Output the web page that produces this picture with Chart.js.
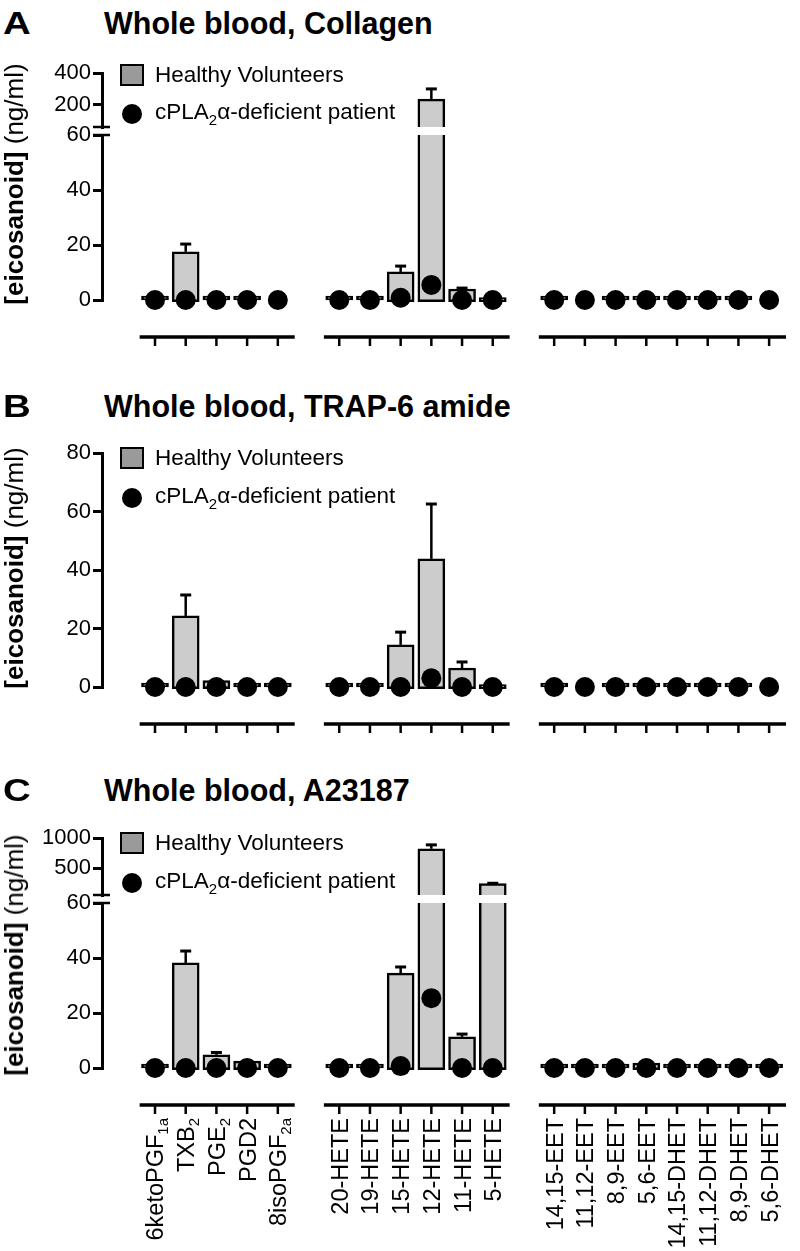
<!DOCTYPE html>
<html>
<head>
<meta charset="utf-8">
<script src="https://cdn.jsdelivr.net/npm/chart.js@4.4.1/dist/chart.umd.min.js"></script>
<style>
html,body{margin:0;padding:0;background:#fff;}
body{width:800px;height:1251px;position:relative;overflow:hidden;font-family:"Liberation Sans",Arial,Helvetica,sans-serif;color:#000;}
canvas{position:absolute;left:0;}
.t{position:absolute;white-space:nowrap;line-height:1;}
.letter{font-weight:bold;font-size:32px;transform:scaleX(1.2);transform-origin:left center;}
.title{font-weight:bold;font-size:30.5px;}
.leg{font-size:22.5px;}
.leg sub{font-size:15px;vertical-align:-6px;line-height:0;}
.ytitle{font-size:26px;transform:translate(-50%,-50%) rotate(-90deg);}
.sq{position:absolute;box-sizing:border-box;width:24px;height:22px;border:2.5px solid #000;background:#9a9a9a;}
.dot{position:absolute;width:20px;height:20px;border-radius:50%;background:#000;}
</style>
</head>
<body>
<script>
// ---------------- DATA ----------------
const prostanoids = ['6ketoPGF_{1a}', 'TXB_{2}', 'PGE_{2}', 'PGD2', '8isoPGF_{2a}'];
const hetes = ['20-HETE', '19-HETE', '15-HETE', '12-HETE', '11-HETE', '5-HETE'];
const eets = ['14,15-EET', '11,12-EET', '8,9-EET', '5,6-EET', '14,15-DHET', '11,12-DHET', '8,9-DHET', '5,6-DHET'];

// Whole blood, Collagen (ng/ml)
const collagenHealthy = [0.4, 17.5, 0.5, 0.5, null, 0.4, 0.4, 10.2, 236, 4.0, 0.9, 0.3, null, 0.3, 0.4, 0.3, 0.3, 0.3, null];
const collagenSEM     = [null, 3.2, null, null, null, null, null, 2.5, 70, 0.7, null, null, null, null, null, null, null, null, null];
const collagenPatient = [0, 0, 0, 0, 0, 0, 0, 0.8, 5.5, 0, 0, 0, 0, 0, 0, 0, 0, 0, 0];

// Whole blood, TRAP-6 amide (ng/ml)
const trapHealthy = [0.3, 24.3, 2.2, 0.5, 0.3, 0.3, 0.3, 14.4, 43.8, 6.5, 0.8, 0.3, null, 0.3, 0.3, 0.3, 0.3, 0.3, null];
const trapSEM     = [null, 7.5, null, null, null, null, null, 4.7, 19.1, 2.4, null, null, null, null, null, null, null, null, null];
const trapPatient = [0, 0, 0, 0, 0, 0, 0, 0, 3.0, 0, 0, 0, 0, 0, 0, 0, 0, 0, 0];

// Whole blood, A23187 (ng/ml)
const a23187Healthy = [0.3, 38.2, 4.8, 2.5, 0.3, 0.3, 0.3, 34.5, 822, 11.3, 250, 0.3, 0.3, 0.3, 1.8, 0.3, 0.3, 0.3, 0.3];
const a23187SEM     = [null, 4.7, 1.2, 0.3, null, null, null, 2.6, 81, 1.4, 20, null, null, null, 0.4, null, null, null, null];
const a23187Patient = [0, 0, 0, 0, 0, 0, 0, 0.7, 25.4, 0, 0, 0, 0, 0, 0, 0, 0, 0, 0];

// y tick labels
const collagenTicksLower = [0, 20, 40, 60];
const collagenTicksUpper = [200, 400];
const trapTicks = [0, 20, 40, 60, 80];
const a23187TicksLower = [0, 20, 40, 60];
const a23187TicksUpper = [500, 1000];

// ---------------- SETUP ----------------
const FONT = '"Liberation Sans", Arial, Helvetica, sans-serif';
Chart.defaults.font.family = FONT;
Chart.defaults.color = '#000';

const groups = [prostanoids, hetes, eets];
const slotOf = [];
const groupRanges = [];
(function () {
  let s = 0;
  groups.forEach(g => {
    const first = s;
    g.forEach(() => { slotOf.push(s); s++; });
    groupRanges.push([first, s - 1]);
    s++; // empty slot between groups
  });
})();
const categories = groups.flat();

const X_MIN = -1.726, X_MAX = 20.68;

function addCanvas(top, height) {
  const c = document.createElement('canvas');
  c.width = 800; c.height = height;
  c.style.top = top + 'px';
  c.style.width = '800px'; c.style.height = height + 'px';
  document.body.appendChild(c);
  return c;
}

const errorBarPlugin = {
  id: 'errbars',
  afterDatasetDraw(chart, args) {
    const ds = chart.data.datasets[args.index];
    if (ds.type !== 'bar') return;
    const y = chart.scales.y, a = chart.chartArea, ctx = chart.ctx;
    ctx.save();
    ctx.beginPath();
    ctx.rect(a.left - 20, a.top - 1, a.right - a.left + 40, a.bottom - a.top + 2);
    ctx.clip();
    ctx.strokeStyle = '#000';
    args.meta.data.forEach((el, i) => {
      const raw = ds.data[i];
      if (raw.e == null) return;
      const pTop = y.getPixelForValue(raw.y + raw.e);
      const pBase = y.getPixelForValue(raw.y);
      ctx.lineWidth = 2.5;
      ctx.beginPath(); ctx.moveTo(el.x, pBase); ctx.lineTo(el.x, pTop); ctx.stroke();
      ctx.lineWidth = 3;
      ctx.beginPath(); ctx.moveTo(el.x - 5.5, pTop + 1); ctx.lineTo(el.x + 5.5, pTop + 1); ctx.stroke();
    });
    ctx.restore();
  }
};

function drawRotatedLabel(ctx, text, x, yTop) {
  const parts = [];
  const re = /_\{([^}]*)\}/g;
  let last = 0, m;
  while ((m = re.exec(text))) {
    if (m.index > last) parts.push({ t: text.slice(last, m.index), sub: false });
    parts.push({ t: m[1], sub: true });
    last = re.lastIndex;
  }
  if (last < text.length) parts.push({ t: text.slice(last), sub: false });
  const FS = 23.5, SFS = 15;
  let w = 0;
  parts.forEach(p => { ctx.font = (p.sub ? SFS : FS) + 'px ' + FONT; p.w = ctx.measureText(p.t).width; w += p.w; });
  ctx.save();
  ctx.translate(x, yTop);
  ctx.rotate(-Math.PI / 2);
  ctx.fillStyle = '#000';
  ctx.textAlign = 'left';
  ctx.textBaseline = 'alphabetic';
  let cx = -w;
  const base = FS * 0.36;
  parts.forEach(p => {
    ctx.font = (p.sub ? SFS : FS) + 'px ' + FONT;
    ctx.fillText(p.t, cx, p.sub ? base + 5 : base);
    cx += p.w;
  });
  ctx.restore();
}

const groupAxisPlugin = {
  id: 'groupAxis',
  afterDraw(chart, args, opts) {
    if (!opts.enabled) return;
    const x = chart.scales.x, ctx = chart.ctx;
    const yAx = chart.chartArea.bottom + 37;
    ctx.save();
    ctx.strokeStyle = '#000';
    groupRanges.forEach(([first, last]) => {
      const x0 = x.getPixelForValue(first - 0.5), x1 = x.getPixelForValue(last + 0.55);
      ctx.lineWidth = 3.5;
      ctx.beginPath(); ctx.moveTo(x0, yAx); ctx.lineTo(x1, yAx); ctx.stroke();
      ctx.lineWidth = 2.5;
      for (let s = first; s <= last; s++) {
        const px = x.getPixelForValue(s);
        ctx.beginPath(); ctx.moveTo(px, yAx); ctx.lineTo(px, yAx + 9); ctx.stroke();
      }
    });
    if (opts.labels) {
      categories.forEach((c, i) => drawRotatedLabel(ctx, c, x.getPixelForValue(slotOf[i]), yAx + 13));
    }
    ctx.restore();
  }
};

const breakPlugin = {
  id: 'brk',
  afterDraw(chart, args, opts) {
    if (!opts.at) return;
    const a = chart.chartArea, ctx = chart.ctx;
    const y = opts.at === 'top' ? a.top : a.bottom;
    ctx.save();
    ctx.strokeStyle = '#000'; ctx.lineWidth = 2.5;
    ctx.beginPath(); ctx.moveTo(a.left - 9, y); ctx.lineTo(a.left + 8, y); ctx.stroke();
    ctx.restore();
  }
};

function buildChart(o) {
  const padTop = 22;
  const cTop = o.top - padTop;
  const h = o.canvasBottom - cTop;
  const canvas = addCanvas(cTop, h);
  const barData = [];
  o.healthy.forEach((v, i) => {
    if (v === null) return;
    if (o.isUpper && v <= o.min) return; // below the upper segment: nothing to draw there
    barData.push({ x: slotOf[i], y: v, e: o.sem[i] });
  });
  const clipSpec = o.isUpper ? { left: false, top: false, right: false, bottom: 0 }
                             : { left: false, top: 0, right: false, bottom: false };
  // bar bottom edge sits ~1.7px below the zero line, as in the original figure
  const basePx = 1.7;
  const unitPx = (o.bottom - o.top) / (o.max - o.min);
  const datasets = [{
    type: 'bar', data: barData, backgroundColor: '#cccccc', borderColor: '#000',
    borderWidth: 2.5, borderSkipped: false, barThickness: 27, minBarLength: o.isUpper ? 0 : 4,
    base: o.isUpper ? undefined : -basePx / unitPx,
    order: 1, clip: clipSpec
  }];
  if (!o.isUpper) {
    datasets.push({
      type: 'line', showLine: false,
      data: o.patient.map((v, i) => ({ x: slotOf[i], y: v })),
      pointRadius: 10, pointHoverRadius: 10, pointBackgroundColor: '#000',
      pointBorderWidth: 0, borderColor: '#000', order: 0, clip: clipSpec
    });
  }
  const ticks = o.ticks;
  new Chart(canvas, {
    type: 'bar',
    data: { datasets },
    options: {
      responsive: false, devicePixelRatio: 1, animation: false, events: [],
      layout: { padding: { top: padTop, bottom: o.canvasBottom - o.bottom, left: 0, right: 10 } },
      plugins: {
        legend: { display: false }, tooltip: { enabled: false },
        groupAxis: { enabled: !!o.xAxis, labels: !!o.labels },
        brk: { at: o.brk || null }
      },
      scales: {
        x: { type: 'linear', min: X_MIN, max: X_MAX, display: false, offset: false },
        y: {
          type: 'linear', min: o.min, max: o.max,
          afterBuildTicks: s => { s.ticks = ticks.map(v => ({ value: v })); },
          afterFit: s => { s.width = 102; },
          border: { display: true, width: 3, color: '#000' },
          grid: { display: true, drawOnChartArea: false, drawTicks: true, tickLength: 9, tickWidth: 3, tickColor: '#000', color: '#000', lineWidth: 3 },
          ticks: { font: { size: 22 }, color: '#000', padding: 2, callback: v => String(v) }
        }
      }
    },
    plugins: [errorBarPlugin, groupAxisPlugin, breakPlugin]
  });
}

// ---------------- PANELS ----------------
const panels = [
  { letter: 'A', title: 'Whole blood, Collagen', titleY: 23, legY: [75, 112], yTitleY: 184,
    healthy: collagenHealthy, sem: collagenSEM, patient: collagenPatient,
    upper: { top: 73, bottom: 127, min: 60, max: 400, ticks: collagenTicksUpper },
    lower: { top: 135, bottom: 300, min: 0, max: 60, ticks: collagenTicksLower, canvasBottom: 355 } },
  { letter: 'B', title: 'Whole blood, TRAP-6 amide', titleY: 406, legY: [458, 496], yTitleY: 568,
    healthy: trapHealthy, sem: trapSEM, patient: trapPatient,
    upper: null,
    lower: { top: 453, bottom: 687, min: 0, max: 80, ticks: trapTicks, canvasBottom: 742 } },
  { letter: 'C', title: 'Whole blood, A23187', titleY: 790, legY: [843, 881], yTitleY: 955,
    healthy: a23187Healthy, sem: a23187SEM, patient: a23187Patient,
    upper: { top: 838, bottom: 895, min: 60, max: 1000, ticks: a23187TicksUpper },
    lower: { top: 903, bottom: 1068, min: 0, max: 60, ticks: a23187TicksLower, canvasBottom: 1251 }, labels: true }
];

function addText(cls, html, left, capCenterY, fs) {
  const d = document.createElement('div');
  d.className = 't ' + cls;
  d.innerHTML = html;
  d.style.left = left + 'px';
  d.style.top = (capCenterY - 0.49 * fs) + 'px';
  document.body.appendChild(d);
  return d;
}

panels.forEach(p => {
  if (p.upper) {
    buildChart(Object.assign({}, p.upper, { canvasBottom: p.upper.bottom + 16, healthy: p.healthy, sem: p.sem, patient: p.patient, isUpper: true, brk: 'bottom' }));
  }
  buildChart(Object.assign({}, p.lower, { healthy: p.healthy, sem: p.sem, patient: p.patient, isUpper: false, xAxis: true, labels: p.labels, brk: p.upper ? 'top' : null }));

  addText('letter', p.letter, 3, p.titleY, 32);
  addText('title', p.title, 104, p.titleY, 30.5);

  const sq = document.createElement('div'); sq.className = 'sq';
  sq.style.left = '120px'; sq.style.top = (p.legY[0] - 11) + 'px';
  document.body.appendChild(sq);
  addText('leg', 'Healthy Volunteers', 155, p.legY[0], 22.5);
  const dot = document.createElement('div'); dot.className = 'dot';
  dot.style.left = '122px'; dot.style.top = (p.legY[1] - 8) + 'px';
  document.body.appendChild(dot);
  addText('leg', 'cPLA<sub>2</sub>α-deficient patient', 155, p.legY[1], 22.5);

  const yt = document.createElement('div');
  yt.className = 't ytitle';
  yt.innerHTML = '<b>[eicosanoid]</b> (ng/ml)';
  yt.style.left = '14px'; yt.style.top = p.yTitleY + 'px';
  document.body.appendChild(yt);
});
</script>
</body>
</html>
